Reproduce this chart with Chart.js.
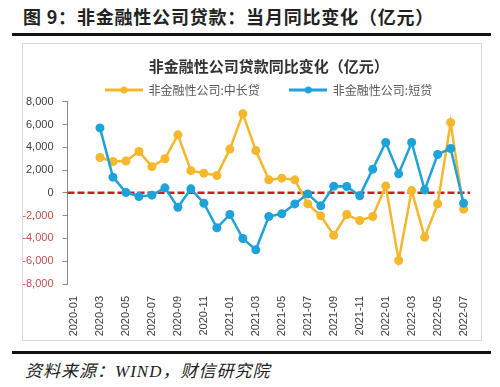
<!DOCTYPE html>
<html>
<head>
<meta charset="utf-8">
<script src="https://cdn.jsdelivr.net/npm/chart.js@4"></script>
<style>
  html, body { margin: 0; padding: 0; background: #fff; }
  body { width: 500px; height: 387px; position: relative; overflow: hidden; font-family: "Noto Sans CJK SC", sans-serif; }
  #head { position: absolute; left: 23px; top: 3px; font-size: 18px; font-weight: bold; color: #222; letter-spacing: 0.8px; white-space: nowrap; }
  .rule { position: absolute; left: 12px; width: 479px; height: 3px; background: #111; }
  #frame { position: absolute; left: 22px; top: 43px; width: 458px; height: 296px; border: 1px solid #d9d9d9; }
  #wrap { position: absolute; left: 23px; top: 44px; width: 458px; height: 296px; }
  #src { position: absolute; left: 25px; top: 357px; font-size: 17px; font-style: italic; color: #222; letter-spacing: 1px; white-space: nowrap; }
  #src .lat { font-family: "Liberation Serif", serif; }
</style>
</head>
<body>
<div id="head">图 9：非金融性公司贷款：当月同比变化（亿元）</div>
<div class="rule" style="top:33px"></div>
<div id="frame"></div>
<div id="wrap"><canvas id="c"></canvas></div>
<div class="rule" style="top:351px"></div>
<div id="src">资料来源：<span class="lat">WIND</span>，财信研究院</div>
<script>
// 月份
const months = [
    "2020-01", "2020-02", "2020-03", "2020-04", "2020-05", "2020-06", "2020-07", "2020-08",
    "2020-09", "2020-10", "2020-11", "2020-12", "2021-01", "2021-02", "2021-03", "2021-04",
    "2021-05", "2021-06", "2021-07", "2021-08", "2021-09", "2021-10", "2021-11", "2021-12",
    "2022-01", "2022-02", "2022-03", "2022-04", "2022-05", "2022-06", "2022-07"
];
// 非金融性公司:中长贷 同比变化
const longLoans = [
    null, null, 3100, 2750, 2800, 3630, 2300, 2990,
    5090, 1950, 1730, 1520, 3840, 6940, 3710, 1140,
    1290, 1140, -970, -2020, -3720, -1900, -2430, -2080,
    610, -5940, 200, -3890, -970, 6170, -1430
];
// 非金融性公司:短贷 同比变化
const shortLoans = [
    null, null, 5700, 1380, 30, -320, -200, 440,
    -1260, 350, -910, -3070, -1900, -4010, -5000, -2080,
    -1840, -970, -90, -1140, 590, 560, -260, 2080,
    4420, 1670, 4420, 260, 3370, 3890, -910
];
const yTicks = [-8000, -6000, -4000, -2000, 0, 2000, 4000, 6000, 8000];

const YELLOW = "#F5B72C";
const BLUE = "#1FA2DA";

// legend marker: line with a dot
function legendMark(color) {
    const cv = document.createElement("canvas");
    cv.width = 38; cv.height = 10;
    const g = cv.getContext("2d");
    g.strokeStyle = color; g.lineWidth = 3;
    g.beginPath(); g.moveTo(0, 5); g.lineTo(38, 5); g.stroke();
    g.fillStyle = color;
    g.beginPath(); g.arc(19, 5, 3.5, 0, Math.PI * 2); g.fill();
    return cv;
}
const marks = [legendMark(YELLOW), legendMark(BLUE)];

// red dashed zero line
const zeroLine = {
    id: "zeroLine",
    beforeDatasetsDraw(chart) {
        const ctx = chart.ctx;
        const y = chart.scales.y.getPixelForValue(0);
        ctx.save();
        ctx.strokeStyle = "#C81E1E";
        ctx.lineWidth = 2.5;
        ctx.setLineDash([7, 3]);
        ctx.beginPath();
        ctx.moveTo(chart.chartArea.left, y);
        ctx.lineTo(chart.chartArea.right, y);
        ctx.stroke();
        ctx.restore();
    }
};

new Chart(document.getElementById("c"), {
    type: "line",
    data: {
        labels: months,
        datasets: [{
            label: "非金融性公司:中长贷",
            data: longLoans,
            borderColor: YELLOW,
            backgroundColor: YELLOW,
            borderWidth: 2.5,
            pointRadius: 4.5,
            pointBorderWidth: 0,
            tension: 0,
            order: 1
        }, {
            label: "非金融性公司:短贷",
            data: shortLoans,
            borderColor: BLUE,
            backgroundColor: BLUE,
            borderWidth: 2.5,
            pointRadius: 4.5,
            pointBorderWidth: 0,
            tension: 0,
            order: 0
        }]
    },
    options: {
        responsive: true,
        maintainAspectRatio: false,
        animation: false,
        layout: { padding: { top: 6, right: 9.5, left: 0, bottom: 0 } },
        scales: {
            x: {
                offset: true,
                grid: { display: false },
                border: { display: false },
                ticks: {
                    autoSkip: false,
                    maxRotation: 90,
                    minRotation: 90,
                    padding: 4,
                    color: "#404040",
                    font: { family: "Liberation Sans", size: 11 },
                    callback: function(value, index) {
                        return index % 2 === 0 ? months[index] : "";
                    }
                },
                afterFit(scale) { scale.height = 56; }
            },
            y: {
                min: -8000,
                max: 8000,
                afterBuildTicks(scale) { scale.ticks = yTicks.map(v => ({ value: v })); },
                grid: { drawOnChartArea: false, drawTicks: true, tickLength: 5, color: "#8c8c8c" },
                border: { display: true, color: "#8c8c8c" },
                ticks: {
                    padding: 9,
                    font: { family: "Liberation Sans", size: 11 },
                    color: ctx => ctx.tick.value < 0 ? "#C0504D" : "#404040"
                },
                afterFit(scale) { scale.width = 44.5; }
            }
        },
        plugins: {
            title: {
                display: true,
                fullSize: false,
                text: "非金融性公司贷款同比变化（亿元）",
                color: "#333",
                font: { family: "Noto Sans CJK SC", size: 15, weight: "bold" },
                padding: { top: 7, bottom: -21 }
            },
            legend: {
                fullSize: false,
                maxHeight: 47.7,
                labels: {
                    usePointStyle: true,
                    pointStyleWidth: 37,
                    padding: 30,
                    color: "#595959",
                    font: { family: "Noto Sans CJK SC", size: 12 },
                    sort: (a, b) => a.datasetIndex - b.datasetIndex,
                    generateLabels(chart) {
                        const items = Chart.defaults.plugins.legend.labels.generateLabels(chart);
                        items.forEach(it => { it.pointStyle = marks[it.datasetIndex]; });
                        return items;
                    }
                }
            },
            tooltip: { enabled: false }
        }
    },
    plugins: [zeroLine]
});
</script>
</body>
</html>
